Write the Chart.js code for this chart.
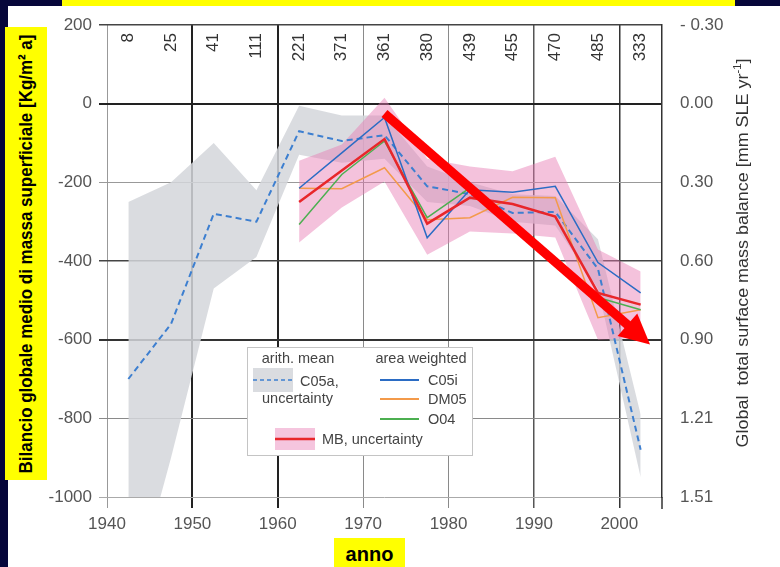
<!DOCTYPE html>
<html>
<head>
<meta charset="utf-8">
<script src="https://cdn.jsdelivr.net/npm/chart.js@4/dist/chart.umd.min.js"></script>
<style>
  html, body { margin: 0; padding: 0; }
  body { width: 780px; height: 567px; background: #06063a; position: relative; overflow: hidden;
         font-family: "Liberation Sans", Arial, sans-serif; }
  #panel { position: absolute; left: 8px; top: 6px; right: 0; bottom: 0; background: #fff; }
  #topbar { position: absolute; left: 62px; top: 0; width: 673px; height: 6px; background: #ffff00; }
  #chartBox { position: absolute; left: 0; top: 0; width: 780px; height: 567px; }
  .title { position: absolute; white-space: nowrap; }
  .title span { position: absolute; left: 50%; top: 50%; white-space: nowrap; }
  #leftTitle { left: 5px; top: 27px; width: 42px; height: 453px; background: #ffff00; }
  #leftTitle span { font-weight: bold; font-size: 19px; color: #000; }
  #bottomTitle { left: 334px; top: 538px; width: 71px; height: 29px; background: #ffff00; }
  #bottomTitle span { font-weight: bold; font-size: 20px; color: #000; transform: translate(-50%,-45%); }
  #rightTitle { left: 732px; top: 58px; width: 20px; height: 389px; }
  #rightTitle span { font-size: 16px; color: #333; }
</style>
</head>
<body>
<div id="panel"></div>
<div id="topbar"></div>
<div id="chartBox"><canvas id="myChart" width="780" height="567"></canvas></div>
<div class="title" id="leftTitle"><span data-len="439">Bilancio globale medio di massa superficiale [Kg/m² a]</span></div>
<div class="title" id="bottomTitle"><span>anno</span></div>
<div class="title" id="rightTitle"><span data-len="389">Global&nbsp; total surface mass balance [mm SLE yr<sup style="font-size:10px">-1</sup>]</span></div>
<script>
// 5-year bins (mid years) and number of glaciers in each bin
var years = [1942.5, 1947.5, 1952.5, 1957.5, 1962.5, 1967.5, 1972.5, 1977.5, 1982.5, 1987.5, 1992.5, 1997.5, 2002.5];
var glacierCounts = [8, 25, 41, 111, 221, 371, 361, 380, 439, 455, 470, 485, 333];

// arith. mean C05a and its uncertainty
var c05a     = [-700, -560, -280, -300, -70, -95, -80, -210, -230, -278, -275, -420, -880];
var c05aHigh = [-250, -200, -100, -220, -5, -30, -30, -160, -200, -230, -235, -345, -790];
var c05aLow  = [-1300, -900, -470, -390, -130, -150, -140, -250, -260, -300, -310, -470, -950];

// area weighted
var c05i = [null, null, null, null, -215, -125, -35, -341, -219, -225, -210, -404, -481];
var dm05 = [null, null, null, null, -215, -216, -163, -295, -290, -238, -239, -544, -524];
var o04  = [null, null, null, null, -307, -180, -95, -290, -214, null, null, -493, -524];

// MB and uncertainty
var mb     = [null, null, null, null, -250, -170, -90, -305, -239, -255, -287, -481, -511];
var mbHigh = [null, null, null, null, -145, -104, 15, -140, -160, -172, -135, -371, -427];
var mbLow  = [null, null, null, null, -353, -264, -198, -384, -325, -330, -340, -600, -595];

// red trend arrow (year, value)
var arrowX = [1972.5, 2003.6];
var arrowY = [-25, -612];

// axis ticks
var leftTicks = [200, 0, -200, -400, -600, -800, -1000];
var rightTickLabels = ['- 0.30', '0.00', '0.30', '0.60', '0.90', '1.21', '1.51'];
var xTicks = [1940, 1950, 1960, 1970, 1980, 1990, 2000];

var yGridStyle = { '200': ['#444', 1.5], '0': ['#222', 2], '-200': ['#999', 1], '-400': ['#444', 1.5],
                   '-600': ['#333', 2], '-800': ['#8a8a8a', 1], '-1000': ['#aaa', 1] };
var xGridStyle = { '1940': ['#999', 1], '1950': ['#222', 2], '1960': ['#222', 2], '1970': ['#8a8a8a', 1],
                   '1980': ['#8a8a8a', 1], '1990': ['#555', 1.5], '2000': ['#333', 1.5] };

function pts(vals) {
    return years.map(function (x, i) { return { x: x, y: vals[i] }; });
}

var countsPlugin = {
    id: 'counts',
    afterDraw: function (chart) {
        var ctx = chart.ctx, xs = chart.scales.x, area = chart.chartArea;
        ctx.save();
        ctx.fillStyle = '#333';
        ctx.font = '17px "Liberation Sans", Arial, sans-serif';
        ctx.textAlign = 'right';
        ctx.textBaseline = 'middle';
        for (var i = 0; i < years.length; i++) {
            ctx.save();
            ctx.translate(xs.getPixelForValue(years[i]), area.top + 8);
            ctx.rotate(-Math.PI / 2);
            ctx.fillText(String(glacierCounts[i]), 0, 0);
            ctx.restore();
        }
        // right axis runs a bit below the plot, like the tick marks
        ctx.strokeStyle = '#333';
        ctx.lineWidth = 1.5;
        ctx.beginPath();
        ctx.moveTo(area.right, area.bottom);
        ctx.lineTo(area.right, area.bottom + 12);
        ctx.stroke();
        ctx.restore();
    }
};

var arrowPlugin = {
    id: 'arrow',
    afterDatasetsDraw: function (chart) {
        var ctx = chart.ctx, xs = chart.scales.x, ys = chart.scales.y;
        var x0 = xs.getPixelForValue(arrowX[0]), y0 = ys.getPixelForValue(arrowY[0]);
        var x1 = xs.getPixelForValue(arrowX[1]), y1 = ys.getPixelForValue(arrowY[1]);
        var a = Math.atan2(y1 - y0, x1 - x0);
        var head = 30, half = 15;
        var bx = x1 - head * Math.cos(a), by = y1 - head * Math.sin(a);
        ctx.save();
        ctx.strokeStyle = '#ff0000';
        ctx.fillStyle = '#ff0000';
        ctx.lineWidth = 9;
        ctx.beginPath();
        ctx.moveTo(x0, y0);
        ctx.lineTo(bx + 2 * Math.cos(a), by + 2 * Math.sin(a));
        ctx.stroke();
        ctx.beginPath();
        ctx.moveTo(x1, y1);
        ctx.lineTo(bx - half * Math.sin(a), by + half * Math.cos(a));
        ctx.lineTo(bx + half * Math.sin(a), by - half * Math.cos(a));
        ctx.closePath();
        ctx.fill();
        ctx.restore();
    }
};

var boxLegend = {
    id: 'boxLegend',
    afterDatasetsDraw: function (chart) {
        var c = chart.ctx;
        var L = 247, T = 347;
        c.save();
        c.fillStyle = '#fff';
        c.fillRect(L, T, 225, 108);
        c.strokeStyle = '#c4c4c4';
        c.lineWidth = 1;
        c.strokeRect(L + 0.5, T + 0.5, 225, 108);

        c.font = '14.5px "Liberation Sans", Arial, sans-serif';
        c.fillStyle = '#444';
        c.textBaseline = 'middle';
        c.textAlign = 'center';
        c.fillText('arith. mean', L + 51, T + 12);
        c.fillText('area weighted', L + 174, T + 12);
        c.textAlign = 'left';

        // C05a swatch
        c.fillStyle = 'rgba(214,216,221,0.9)';
        c.fillRect(L + 6, T + 21, 40, 24);
        c.strokeStyle = '#3d7fd0';
        c.lineWidth = 1.5;
        c.setLineDash([4, 3]);
        c.beginPath(); c.moveTo(L + 6, T + 33); c.lineTo(L + 46, T + 33); c.stroke();
        c.setLineDash([]);
        c.fillStyle = '#444';
        c.fillText('C05a,', L + 53, T + 35);
        c.fillText('uncertainty', L + 15, T + 52);

        var items = [['C05i', '#2b6cc4', 33], ['DM05', '#f39a4a', 52], ['O04', '#4caf50', 72]];
        items.forEach(function (it) {
            c.strokeStyle = it[1];
            c.lineWidth = 2;
            c.beginPath(); c.moveTo(L + 133, T + it[2]); c.lineTo(L + 172, T + it[2]); c.stroke();
            c.fillStyle = '#444';
            c.fillText(it[0], L + 181, T + it[2] + 1);
        });

        // MB swatch
        c.fillStyle = 'rgba(236,150,195,0.55)';
        c.fillRect(L + 28, T + 81, 40, 22);
        c.strokeStyle = '#e8262a';
        c.lineWidth = 2.5;
        c.beginPath(); c.moveTo(L + 28, T + 92); c.lineTo(L + 68, T + 92); c.stroke();
        c.fillStyle = '#444';
        c.fillText('MB, uncertainty', L + 75, T + 93);
        c.restore();
    }
};

var lineBase = { pointRadius: 0, fill: false, tension: 0 };

var ctx = document.getElementById('myChart');
new Chart(ctx, {
    type: 'line',
    data: {
        datasets: [
            Object.assign({}, lineBase, { label: 'C05a unc. high', data: pts(c05aHigh), borderWidth: 0, borderColor: 'transparent',
                fill: '+1', backgroundColor: 'rgba(212,214,219,0.85)', order: 6 }),
            Object.assign({}, lineBase, { label: 'C05a unc. low', data: pts(c05aLow), borderWidth: 0, borderColor: 'transparent', order: 6 }),
            Object.assign({}, lineBase, { label: 'MB unc. high', data: pts(mbHigh), borderWidth: 0, borderColor: 'transparent',
                fill: '+1', backgroundColor: 'rgba(230,120,178,0.45)', order: 5 }),
            Object.assign({}, lineBase, { label: 'MB unc. low', data: pts(mbLow), borderWidth: 0, borderColor: 'transparent', order: 5 }),
            Object.assign({}, lineBase, { label: 'C05a', data: pts(c05a), borderColor: '#3d7fd0', borderWidth: 2, borderDash: [6, 4], order: 4 }),
            Object.assign({}, lineBase, { label: 'DM05', data: pts(dm05), borderColor: '#f39a4a', borderWidth: 1.5, order: 3 }),
            Object.assign({}, lineBase, { label: 'O04', data: pts(o04), borderColor: '#4caf50', borderWidth: 1.5, order: 2 }),
            Object.assign({}, lineBase, { label: 'C05i', data: pts(c05i), borderColor: '#2b6cc4', borderWidth: 1.5, order: 1 }),
            Object.assign({}, lineBase, { label: 'MB', data: pts(mb), borderColor: '#e8262a', borderWidth: 2.5, order: 0 })
        ]
    },
    options: {
        responsive: false,
        animation: false,
        layout: { padding: { top: 25, left: 0, right: 0, bottom: 0 } },
        plugins: { legend: { display: false }, tooltip: { enabled: false } },
        scales: {
            x: {
                type: 'linear', position: 'bottom', min: 1940, max: 2005,
                afterFit: function (s) { s.height = 70; },
                afterBuildTicks: function (s) { s.ticks = xTicks.map(function (v) { return { value: v }; }); },
                ticks: { color: '#555', padding: 6, maxRotation: 0, font: { size: 17, family: '"Liberation Sans", Arial, sans-serif' },
                         callback: function (v) { return String(v); } },
                grid: {
                    tickLength: 11,
                    color: function (c) { return c.tick ? (xGridStyle[c.tick.value] || ['#999'])[0] : '#999'; },
                    lineWidth: function (c) { return c.tick ? (xGridStyle[c.tick.value] || [0, 1])[1] : 1; }
                },
                border: { display: false }
            },
            y: {
                position: 'left', min: -1000, max: 200,
                afterFit: function (s) { s.width = 107; },
                afterBuildTicks: function (s) { s.ticks = leftTicks.map(function (v) { return { value: v }; }); },
                ticks: { color: '#555', padding: 7, font: { size: 17, family: '"Liberation Sans", Arial, sans-serif' },
                         callback: function (v) { return String(v); } },
                grid: {
                    tickLength: 8,
                    color: function (c) { return c.tick ? (yGridStyle[c.tick.value] || ['#999'])[0] : '#999'; },
                    lineWidth: function (c) { return c.tick ? (yGridStyle[c.tick.value] || [0, 1])[1] : 1; }
                },
                border: { display: false }
            },
            y2: {
                position: 'right', min: -1000, max: 200,
                afterFit: function (s) { s.width = 118; },
                afterBuildTicks: function (s) { s.ticks = leftTicks.map(function (v) { return { value: v }; }); },
                ticks: { color: '#555', padding: 10, font: { size: 17, family: '"Liberation Sans", Arial, sans-serif' },
                         callback: function (v) { return rightTickLabels[leftTicks.indexOf(v)]; } },
                grid: { display: false, drawOnChartArea: false },
                border: { display: true, color: '#333', width: 1.5 }
            }
        }
    },
    plugins: [arrowPlugin, boxLegend, countsPlugin]
});

// fit the rotated axis titles to the length they have in the picture
document.querySelectorAll('.title span[data-len]').forEach(function (sp) {
    var k = parseFloat(sp.getAttribute('data-len')) / sp.offsetWidth;
    sp.style.transform = 'translate(-50%,-50%) rotate(-90deg) scale(' + k.toFixed(3) + ',1)';
});
</script>
</body>
</html>
